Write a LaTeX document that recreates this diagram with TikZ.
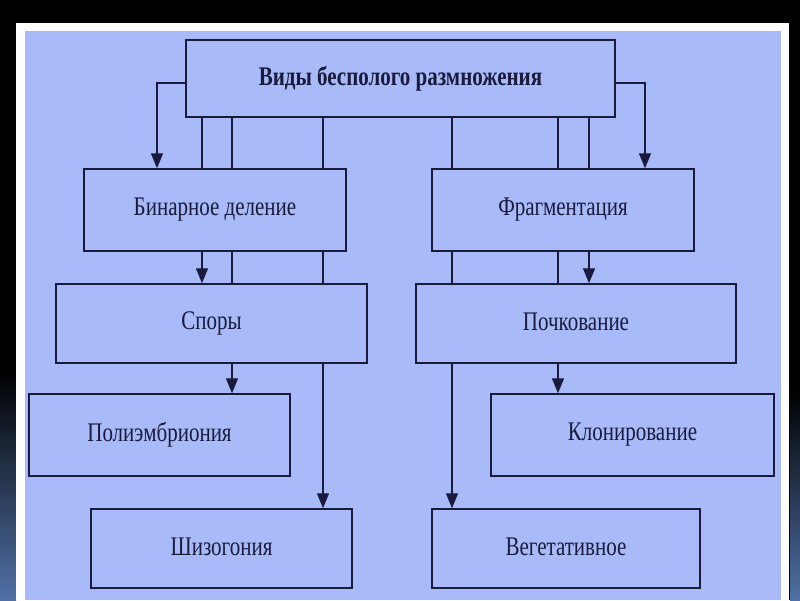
\documentclass[tikz,border=0pt]{standalone}
\usepackage{fontspec}
\usepackage{graphicx}
\setmainfont{Liberation Serif}
\usetikzlibrary{arrows.meta}
\definecolor{bgblue}{RGB}{168,187,248}
\definecolor{ink}{RGB}{26,26,60}
\definecolor{stripblue}{RGB}{80,112,165}
\newcommand{\tallt}[1]{\raisebox{4pt}{\scalebox{1}[1.28]{#1}}}
\begin{document}
\begin{tikzpicture}[x=1pt,y=-1pt,
  box/.style={draw=ink,line width=1.5pt,rectangle,inner sep=0pt,text=ink,
    font=\fontsize{21}{25}\selectfont},
  conn/.style={draw=ink,line width=1.4pt},
  arr/.style={conn,-{Triangle[width=12pt,length=15pt]}}]
% background
\fill[black] (0,0) rectangle (800,600);
\shade[top color=black,bottom color=stripblue] (0,370) rectangle (16,600);
\shade[top color=black,bottom color=stripblue] (790,390) rectangle (800,600);
\fill[white] (16,23) rectangle (789,600);
\fill[bgblue] (25,31) rectangle (781,600);
\useasboundingbox (0,0) rectangle (800,600);
% boxes
\node[box,minimum width=429pt,minimum height=77pt,font=\fontsize{21}{25}\selectfont\bfseries] (top) at (400.5,78.5) {\tallt{Виды бесполого размножения}};
\node[box,minimum width=262pt,minimum height=82pt] (bin) at (215,210) {\tallt{Бинарное деление}};
\node[box,minimum width=262pt,minimum height=82pt] (frag) at (563,210) {\tallt{Фрагментация}};
\node[box,minimum width=311pt,minimum height=79pt] (spor) at (211.5,323.5) {\tallt{Споры}};
\node[box,minimum width=320pt,minimum height=79pt] (poch) at (576,323.5) {\tallt{Почкование}};
\node[box,minimum width=261pt,minimum height=82pt] (poli) at (159.5,435) {\tallt{Полиэмбриония}};
\node[box,minimum width=283pt,minimum height=82pt] (klon) at (632.5,435) {\tallt{Клонирование}};
\node[box,minimum width=261pt,minimum height=79pt] (shiz) at (221.5,548.5) {\tallt{Шизогония}};
\node[box,minimum width=268pt,minimum height=79pt] (veg) at (566,548.5) {\tallt{Вегетативное}};
% x positions of the connectors
\coordinate (xa) at (202,0);
\coordinate (xb) at (232,0);
\coordinate (xc) at (323,0);
\coordinate (xd) at (452,0);
\coordinate (xe) at (558,0);
\coordinate (xf) at (589,0);
\coordinate (xl) at (157,83);
\coordinate (xr) at (645,83);
% left side
\draw[arr] (top.west |- xl) -- (xl) -- (bin.north -| xl);
\draw[conn] (top.south -| xa) -- (bin.north -| xa);
\draw[arr] (bin.south -| xa) -- (spor.north -| xa);
\draw[conn] (top.south -| xb) -- (bin.north -| xb);
\draw[conn] (bin.south -| xb) -- (spor.north -| xb);
\draw[arr] (spor.south -| xb) -- (poli.north -| xb);
\draw[conn] (top.south -| xc) -- (bin.north -| xc);
\draw[conn] (bin.south -| xc) -- (spor.north -| xc);
\draw[arr] (spor.south -| xc) -- (shiz.north -| xc);
% right side
\draw[arr] (top.east |- xr) -- (xr) -- (frag.north -| xr);
\draw[conn] (top.south -| xd) -- (frag.north -| xd);
\draw[conn] (frag.south -| xd) -- (poch.north -| xd);
\draw[arr] (poch.south -| xd) -- (veg.north -| xd);
\draw[conn] (top.south -| xe) -- (frag.north -| xe);
\draw[conn] (frag.south -| xe) -- (poch.north -| xe);
\draw[arr] (poch.south -| xe) -- (klon.north -| xe);
\draw[conn] (top.south -| xf) -- (frag.north -| xf);
\draw[arr] (frag.south -| xf) -- (poch.north -| xf);
\end{tikzpicture}
\end{document}
